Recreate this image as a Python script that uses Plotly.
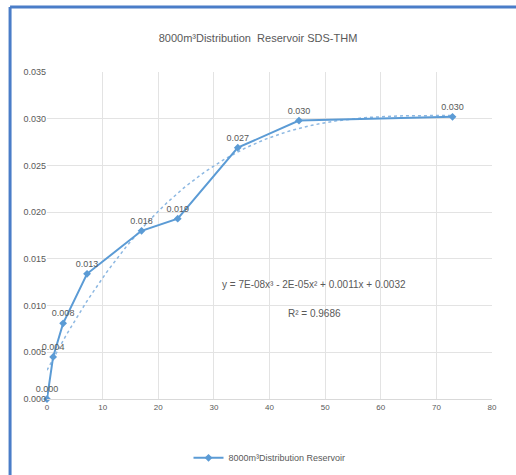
import numpy as np
import plotly.graph_objects as go

# Data
x_vals = [0, 1.1, 2.9, 7.2, 17.0, 23.5, 34.3, 45.3, 72.9]
y_vals = [0.0000, 0.0045, 0.0081, 0.0134, 0.0180, 0.0193, 0.0269, 0.0298, 0.0302]
point_labels = ["0.000", "0.004", "0.008", "0.013", "0.018", "0.019", "0.027", "0.030", "0.030"]
series_name = "8000m³Distribution Reservoir"
title_text = "8000m³Distribution  Reservoir SDS-THM"
equation_text = "y = 7E-08x³ - 2E-05x² + 0.0011x + 0.0032"
r2_text = "R² = 0.9686"
x_ticks = [0, 10, 20, 30, 40, 50, 60, 70, 80]
y_ticks = [0.000, 0.005, 0.010, 0.015, 0.020, 0.025, 0.030, 0.035]

# Polynomial (order 3) trendline fitted to the data
coef = np.polyfit(x_vals, y_vals, 3)
tx = np.linspace(0, max(x_vals), 200)
ty = np.polyval(coef, tx)

blue = "#5B9BD5"
grid = "#E3E3E3"
txt = "#595959"

fig = go.Figure()
fig.add_trace(go.Scatter(
    x=tx, y=ty, mode="lines", showlegend=False, hoverinfo="skip",
    line=dict(color="#8DB8E2", width=1.5, dash="dot"),
))
fig.add_trace(go.Scatter(
    x=x_vals, y=y_vals, mode="lines+markers+text", name=series_name,
    line=dict(color=blue, width=2),
    marker=dict(symbol="diamond", size=6, color=blue),
    text=point_labels, textposition="top center", cliponaxis=False,
    textfont=dict(size=9, color=txt, family="Liberation Sans"),
))

fig.update_layout(
    width=516, height=475,
    margin=dict(l=47, r=24, t=72, b=76, autoexpand=False),
    paper_bgcolor="white", plot_bgcolor="white",
    font=dict(family="Liberation Sans", color=txt, size=9),
    title=dict(text=title_text, x=0.5, xanchor="center", y=1 - 38 / 475, yanchor="middle",
               font=dict(size=11, color=txt)),
    xaxis=dict(range=[0, 80], tickvals=x_ticks, showgrid=True, gridcolor=grid, gridwidth=1,
               zeroline=False, showline=True, linecolor="#D9D9D9", ticks="",
               automargin=False, tickfont=dict(size=8, color=txt)),
    yaxis=dict(range=[0, 0.035], tickvals=y_ticks, tickformat=".3f", showgrid=True,
               gridcolor=grid, gridwidth=1, zeroline=False, showline=False, ticks="",
               automargin=False, tickfont=dict(size=9, color=txt)),
    legend=dict(orientation="h", x=0.5, xanchor="center", y=-0.18, yanchor="middle",
                font=dict(size=9, color=txt)),
    showlegend=True,
    shapes=[
        dict(type="line", xref="paper", yref="paper", x0=-0.083, x1=-0.083, y0=1.199, y1=-0.3,
             line=dict(color="#4A7DC8", width=3)),
        dict(type="line", xref="paper", yref="paper", x0=-0.083, x1=1.1, y0=1.199, y1=1.199,
             line=dict(color="#4A7DC8", width=3)),
    ],
)
fig.add_annotation(x=48.0, y=0.0123, xref="x", yref="y", text=equation_text,
                   showarrow=False, font=dict(size=10, color=txt))
fig.add_annotation(x=48.0, y=0.0092, xref="x", yref="y", text=r2_text,
                   showarrow=False, font=dict(size=10, color=txt))

fig.write_html("out.html", config={"displayModeBar": False},
               post_script="document.body.style.margin='0';document.body.style.overflow='hidden';")
